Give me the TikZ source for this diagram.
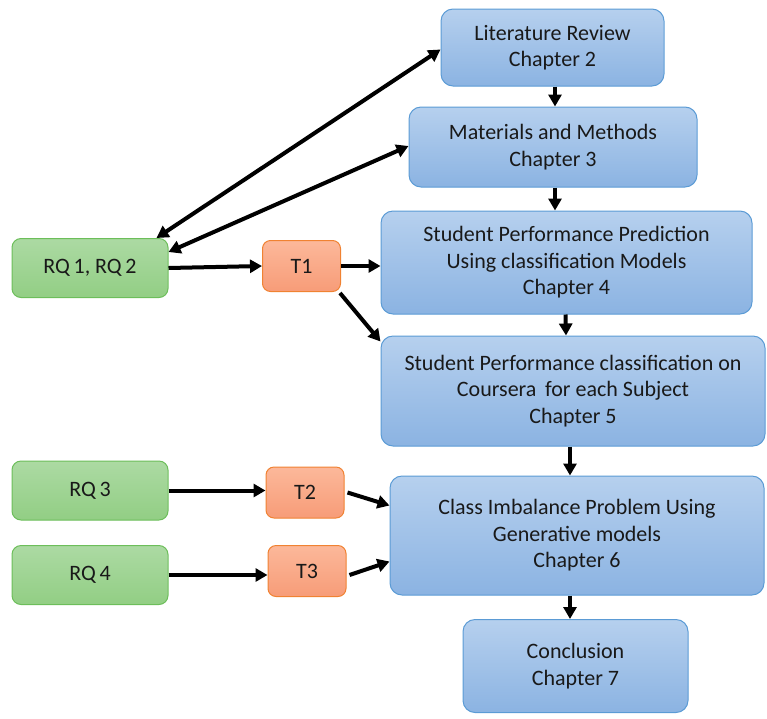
\documentclass[tikz,border=0pt]{standalone}
\usepackage{fontspec}
\setmainfont{Carlito}
\usepackage{tikz}
\usetikzlibrary{arrows.meta,positioning,calc}

\definecolor{chapline}{RGB}{91,155,213}
\definecolor{chaptop}{RGB}{182,208,238}
\definecolor{chapbot}{RGB}{139,179,226}
\definecolor{rqline}{RGB}{108,190,90}
\definecolor{rqtop}{RGB}{172,218,163}
\definecolor{rqbot}{RGB}{146,206,132}
\definecolor{tline}{RGB}{240,130,50}
\definecolor{ttop}{RGB}{252,184,154}
\definecolor{tbot}{RGB}{247,156,120}

\begin{document}
\begin{tikzpicture}[x=1pt, y=-1pt,
    every node/.style={font=\fontsize{22}{26.5}\selectfont, text=black!90},
    chapter/.style={rectangle, rounded corners=12pt, draw=chapline, line width=1pt,
        top color=chaptop, bottom color=chapbot, align=center, inner sep=0pt},
    rq/.style={rectangle, rounded corners=9pt, draw=rqline, line width=1pt,
        top color=rqtop, bottom color=rqbot, minimum width=156pt, minimum height=59pt},
    task/.style={rectangle, rounded corners=8pt, draw=tline, line width=1pt,
        top color=ttop, bottom color=tbot, minimum width=78pt, minimum height=51pt},
    link/.style={-{Triangle[length=12pt,width=13pt]}, line width=4pt},
    both/.style={{Triangle[length=12pt,width=13pt]}-{Triangle[length=12pt,width=13pt]}, line width=4pt}
]
\useasboundingbox (0,0) rectangle (767,718);

% Chapters
\node[chapter, minimum width=223pt, minimum height=77pt] (lit) at (552.5,47.5) {Literature Review\\Chapter 2};
\node[chapter, minimum width=288pt, minimum height=80pt] (mat) at (553,147) {Materials and Methods\\Chapter 3};
\node[chapter, minimum width=371pt, minimum height=103pt] (pred) at (566.5,262.5) {Student Performance Prediction\\Using classification Models\\Chapter 4};
\node[chapter, minimum width=384pt, minimum height=110pt] (cls) at (573,391) {Student Performance classification on\\Coursera\, for each Subject\\Chapter 5};
\node[chapter, minimum width=374pt, minimum height=119pt] (imb) at (577,535.5) {Class Imbalance Problem Using\\Generative models\\Chapter 6};
\node[chapter, minimum width=225pt, minimum height=93pt] (conc) at (575.5,666) {Conclusion\\Chapter 7};

% Research questions and tasks
\node[rq] (rq12) at (90,268) {RQ\,1, RQ\,2};
\node[task] (t1) at (301.5,266) {T1};
\node[rq] (rq3) at (90,490.5) {RQ\,3};
\node[task] (t2) at (305,492.5) {T2};
\node[rq] (rq4) at (90,575) {RQ\,4};
\node[task] (t3) at (307,571) {T3};

% Arrows
\draw[link] ([xshift=2.5pt]lit.south) -- ([xshift=2pt]mat.north);
\draw[link] ([xshift=2pt]mat.south) -- ([xshift=-11.5pt]pred.north);
\draw[link] ([xshift=-1pt]pred.south) -- ([xshift=-7pt]cls.north);
\draw[link] ([xshift=-3pt]cls.south) -- ([xshift=-7pt]imb.north);
\draw[link] ([xshift=-7pt]imb.south) -- ([xshift=-5.5pt]conc.north);

\draw[both] ([xshift=-12pt]rq12.north east) -- ([yshift=-2pt]lit.west);
\draw[both] ([yshift=-14pt]rq12.north east) -- ([yshift=1pt]mat.west);
\draw[link] (rq12.east) -- (t1.west);
\draw[link] (t1.east) -- (pred.west |- t1.east);
\draw[link] ([xshift=-1pt,yshift=-1pt]t1.south east) -- ([yshift=-6pt]cls.north west);

\draw[link] (rq3.east) -- (t2.west |- rq3.east);
\draw[link] ([xshift=3pt]t2.east) -- ([yshift=30pt]imb.west);
\draw[link] (rq4.east) -- (t3.west |- rq4.east);
\draw[link] ([xshift=3pt,yshift=-4pt]t3.east) -- ([yshift=-26pt]imb.west);

\end{tikzpicture}
\end{document}
